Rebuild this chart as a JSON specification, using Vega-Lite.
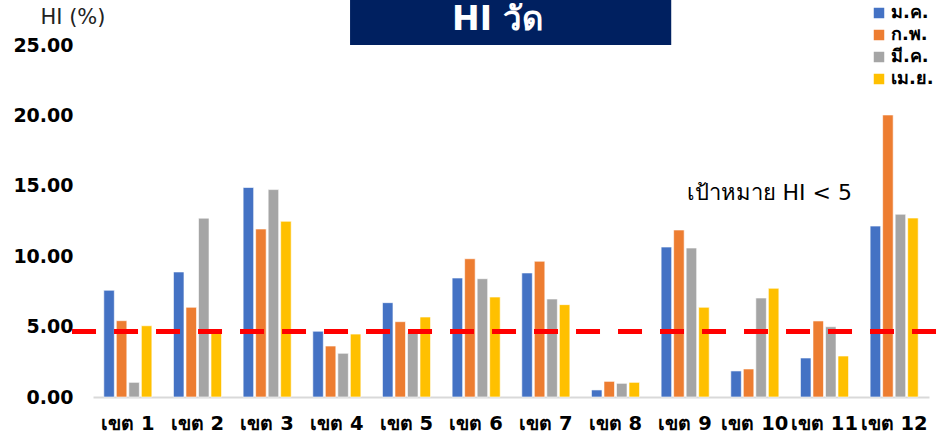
{
  "$schema": "https://vega.github.io/schema/vega-lite/v6.json",
  "autosize": {"type": "none"},
  "width": 836,
  "height": 352,
  "padding": {"left": 93, "top": 45, "right": 12, "bottom": 38},
  "background": "white",
  "config": {
    "view": {"stroke": null},
    "font": "DejaVu Sans"
  },
  "datasets": {
    "hi": [
      {"region": "เขต 1", "month": "ม.ค.", "value": 7.58},
      {"region": "เขต 1", "month": "ก.พ.", "value": 5.42},
      {"region": "เขต 1", "month": "มี.ค.", "value": 1.04},
      {"region": "เขต 1", "month": "เม.ย.", "value": 5.06},
      {"region": "เขต 2", "month": "ม.ค.", "value": 8.88},
      {"region": "เขต 2", "month": "ก.พ.", "value": 6.37},
      {"region": "เขต 2", "month": "มี.ค.", "value": 12.70},
      {"region": "เขต 2", "month": "เม.ย.", "value": 4.60},
      {"region": "เขต 3", "month": "ม.ค.", "value": 14.88},
      {"region": "เขต 3", "month": "ก.พ.", "value": 11.93},
      {"region": "เขต 3", "month": "มี.ค.", "value": 14.73},
      {"region": "เขต 3", "month": "เม.ย.", "value": 12.48},
      {"region": "เขต 4", "month": "ม.ค.", "value": 4.67},
      {"region": "เขต 4", "month": "ก.พ.", "value": 3.62},
      {"region": "เขต 4", "month": "มี.ค.", "value": 3.10},
      {"region": "เขต 4", "month": "เม.ย.", "value": 4.47},
      {"region": "เขต 5", "month": "ม.ค.", "value": 6.70},
      {"region": "เขต 5", "month": "ก.พ.", "value": 5.35},
      {"region": "เขต 5", "month": "มี.ค.", "value": 4.55},
      {"region": "เขต 5", "month": "เม.ย.", "value": 5.68},
      {"region": "เขต 6", "month": "ม.ค.", "value": 8.45},
      {"region": "เขต 6", "month": "ก.พ.", "value": 9.82},
      {"region": "เขต 6", "month": "มี.ค.", "value": 8.40},
      {"region": "เขต 6", "month": "เม.ย.", "value": 7.10},
      {"region": "เขต 7", "month": "ม.ค.", "value": 8.81},
      {"region": "เขต 7", "month": "ก.พ.", "value": 9.64},
      {"region": "เขต 7", "month": "มี.ค.", "value": 6.96},
      {"region": "เขต 7", "month": "เม.ย.", "value": 6.56},
      {"region": "เขต 8", "month": "ม.ค.", "value": 0.50},
      {"region": "เขต 8", "month": "ก.พ.", "value": 1.11},
      {"region": "เขต 8", "month": "มี.ค.", "value": 0.97},
      {"region": "เขต 8", "month": "เม.ย.", "value": 1.04},
      {"region": "เขต 9", "month": "ม.ค.", "value": 10.65},
      {"region": "เขต 9", "month": "ก.พ.", "value": 11.86},
      {"region": "เขต 9", "month": "มี.ค.", "value": 10.58},
      {"region": "เขต 9", "month": "เม.ย.", "value": 6.37},
      {"region": "เขต 10", "month": "ม.ค.", "value": 1.85},
      {"region": "เขต 10", "month": "ก.พ.", "value": 1.99},
      {"region": "เขต 10", "month": "มี.ค.", "value": 7.03},
      {"region": "เขต 10", "month": "เม.ย.", "value": 7.72},
      {"region": "เขต 11", "month": "ม.ค.", "value": 2.77},
      {"region": "เขต 11", "month": "ก.พ.", "value": 5.40},
      {"region": "เขต 11", "month": "มี.ค.", "value": 4.99},
      {"region": "เขต 11", "month": "เม.ย.", "value": 2.91},
      {"region": "เขต 12", "month": "ม.ค.", "value": 12.14},
      {"region": "เขต 12", "month": "ก.พ.", "value": 20.03},
      {"region": "เขต 12", "month": "มี.ค.", "value": 12.98},
      {"region": "เขต 12", "month": "เม.ย.", "value": 12.71}
    ],
    "target": [{"value": 4.65, "label": "เป้าหมาย HI < 5", "start": -0.0251, "end": 1.0084}],
    "heading": [{"label": "HI วัด"}]
  },
  "resolve": {"scale": {"x": "independent"}},
  "layer": [
    {
      "layer": [
        {
          "data": {"name": "hi"},
          "mark": {"type": "bar", "stroke": "white", "strokeWidth": 0.6},
          "encoding": {
            "x": {
              "field": "region",
              "type": "nominal",
              "sort": ["เขต 1", "เขต 2", "เขต 3", "เขต 4", "เขต 5", "เขต 6", "เขต 7", "เขต 8", "เขต 9", "เขต 10", "เขต 11", "เขต 12"],
              "scale": {"paddingInner": 0.31, "paddingOuter": 0.155},
              "axis": {
                "title": null,
                "labelAngle": 0,
                "labelFontSize": 19.5,
                "labelFontWeight": "bold",
                "labelColor": "black",
                "labelPadding": 17,
                "labelOverlap": false,
                "labelLimit": 0,
                "ticks": false,
                "domainColor": "#D9D9D9",
                "domainWidth": 2
              }
            },
            "xOffset": {
              "field": "month",
              "type": "nominal",
              "sort": ["ม.ค.", "ก.พ.", "มี.ค.", "เม.ย."],
              "scale": {"paddingInner": 0.16}
            },
            "y": {
              "field": "value",
              "type": "quantitative",
              "scale": {"domain": [0, 25], "nice": false},
              "axis": {
                "title": "HI (%)",
                "titleAngle": 0,
                "titleAlign": "left",
                "titleBaseline": "middle",
                "titleX": -53,
                "titleY": -28,
                "titleFontSize": 21,
                "titleFontWeight": "normal",
                "titleColor": "#222222",
                "values": [0, 5, 10, 15, 20, 25],
                "format": ".2f",
                "labelFontSize": 19,
                "labelFontWeight": "bold",
                "labelColor": "black",
                "labelPadding": 20,
                "ticks": false,
                "domain": false,
                "grid": false
              }
            },
            "color": {
              "field": "month",
              "type": "nominal",
              "sort": ["ม.ค.", "ก.พ.", "มี.ค.", "เม.ย."],
              "scale": {"domain": ["ม.ค.", "ก.พ.", "มี.ค.", "เม.ย."], "range": ["#4472C4", "#ED7D31", "#A5A5A5", "#FFC000"]},
              "legend": {
                "title": null,
                "orient": "none",
                "legendX": 777,
                "legendY": -41,
                "symbolType": "square",
                "symbolSize": 110,
                "symbolStrokeWidth": 0,
                "labelFontSize": 18,
                "labelFontWeight": "bold",
                "labelColor": "black",
                "labelOffset": 3,
                "rowPadding": 4
              }
            }
          }
        },
        {
          "data": {"name": "target"},
          "mark": {"type": "text", "fontSize": 22, "color": "black", "align": "center", "baseline": "middle"},
          "encoding": {
            "text": {"field": "label"},
            "x": {"datum": "เขต 10", "bandPosition": 0.8},
            "y": {"datum": 14.5, "type": "quantitative"}
          }
        },
        {
          "data": {"name": "heading"},
          "mark": {"type": "rect", "color": "#002060"},
          "encoding": {
            "x": {"datum": "เขต 4", "bandPosition": 0.775},
            "x2": {"datum": "เขต 9", "bandPosition": 0.21},
            "y": {"datum": 25.0, "type": "quantitative"},
            "y2": {"datum": 28.3}
          }
        },
        {
          "data": {"name": "heading"},
          "mark": {"type": "text", "fontSize": 33, "fontWeight": "bold", "color": "white", "align": "center", "baseline": "middle"},
          "encoding": {
            "text": {"field": "label"},
            "x": {"datum": "เขต 6", "bandPosition": 0.95},
            "y": {"datum": 26.8, "type": "quantitative"}
          }
        }
      ]
    },
    {
      "data": {"name": "target"},
      "mark": {"type": "rule", "color": "#FF0000", "strokeWidth": 5, "strokeDash": [24, 18]},
      "encoding": {
        "y": {"field": "value", "type": "quantitative"},
        "x": {"field": "start", "type": "quantitative", "scale": {"domain": [0, 1], "nice": false, "zero": false}, "axis": null},
        "x2": {"field": "end"}
      }
    }
  ]
}
